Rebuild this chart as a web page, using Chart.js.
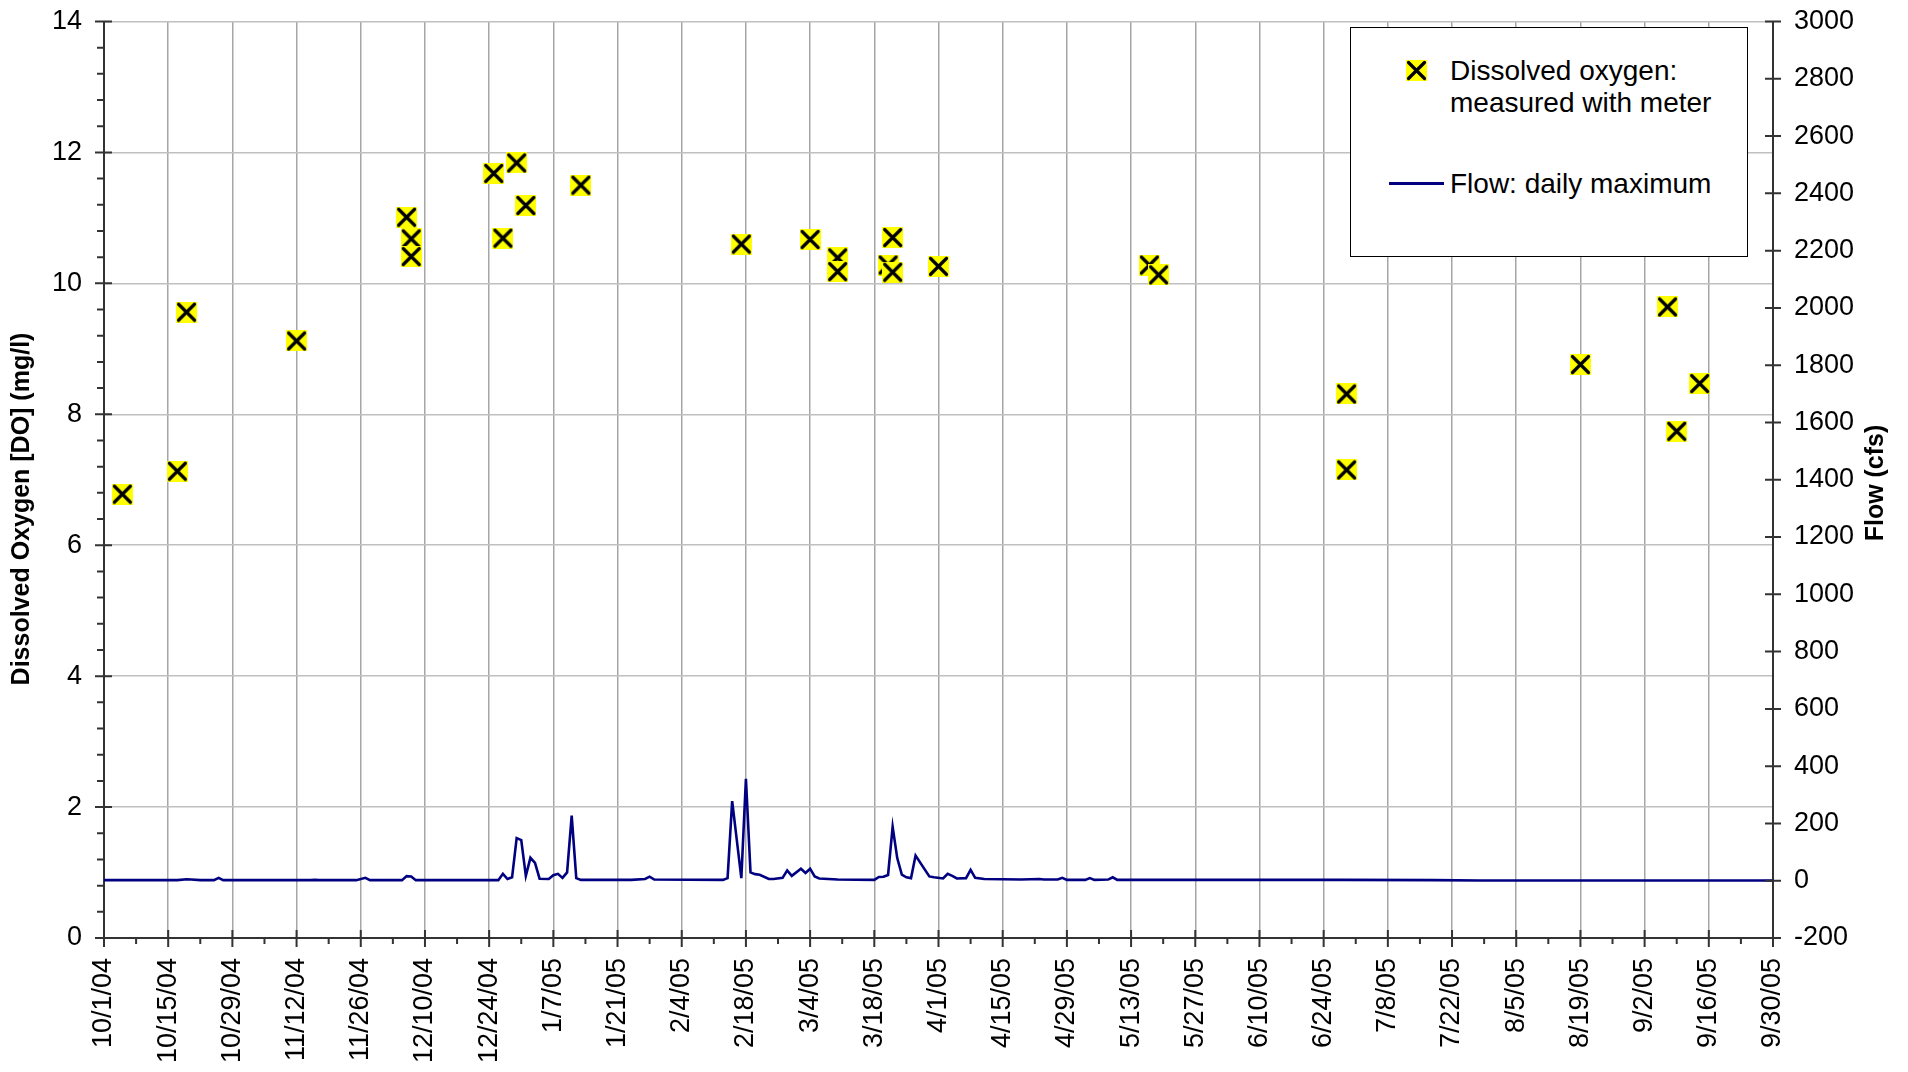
<!DOCTYPE html>
<html>
<head>
<meta charset="utf-8">
<script src="https://cdn.jsdelivr.net/npm/chart.js@4.4.1/dist/chart.umd.min.js"></script>
<style>
  html, body { margin: 0; padding: 0; background: #fff; overflow: hidden; }
  #wrap { position: relative; width: 1908px; height: 1072px; }
  #legenda {
    position: absolute; left: 1350px; top: 27px; width: 398px; height: 230px;
    border: 1.5px solid #000; background: #fff; box-sizing: border-box;
    font-family: Arial, "Liberation Sans", sans-serif; font-size: 28px; color: #000;
  }
  #legenda .txt { position: absolute; left: 99px; line-height: 31.7px; white-space: nowrap; }
  #legenda .marca { position: absolute; left: 55px; top: 32px; }
  #legenda .linha { position: absolute; left: 38px; top: 154px; width: 55px; height: 2.5px; background: #000080; }
</style>
</head>
<body>
<div id="wrap">
  <canvas id="grafico" width="1908" height="1072"></canvas>
  <div id="legenda">
    <canvas class="marca" id="marcaLegenda" width="21" height="21"></canvas>
    <div class="txt" style="top: 27px;">Dissolved oxygen:<br>measured with meter</div>
    <div class="linha"></div>
    <div class="txt" style="top: 140px;">Flow: daily maximum</div>
  </div>
</div>
<script>
// rótulos do eixo x (a cada 14 dias)
const rotulosDatas = ['10/1/04', '10/15/04', '10/29/04', '11/12/04', '11/26/04', '12/10/04', '12/24/04',
  '1/7/05', '1/21/05', '2/4/05', '2/18/05', '3/4/05', '3/18/05', '4/1/05', '4/15/05', '4/29/05',
  '5/13/05', '5/27/05', '6/10/05', '6/24/05', '7/8/05', '7/22/05', '8/5/05', '8/19/05', '9/2/05',
  '9/16/05', '9/30/05'];

// oxigênio dissolvido medido (mg/l)
const datasOD = ['10/5/04', '10/17/04', '10/19/04', '11/12/04', '12/6/04', '12/7/04', '12/7/04',
  '12/25/04', '12/27/04', '12/30/04', '1/1/05', '1/13/05', '2/17/05', '3/4/05', '3/10/05', '3/10/05',
  '3/21/05', '3/22/05', '3/22/05', '4/1/05', '5/17/05', '5/19/05', '6/29/05', '6/29/05', '8/19/05',
  '9/7/05', '9/9/05', '9/14/05'];
const valoresOD = [6.78, 7.13, 9.56, 9.12, 11.01, 10.68, 10.41,
  11.68, 10.69, 11.84, 11.19, 11.50, 10.60, 10.67, 10.39, 10.18,
  10.28, 10.17, 10.70, 10.26, 10.28, 10.13, 8.31, 7.15, 8.76,
  9.64, 7.74, 8.47];

// vazão máxima diária (cfs)
const datasVazao = ['10/1/04', '10/17/04', '10/19/04', '10/20/04', '10/22/04', '10/25/04', '10/26/04',
  '10/27/04', '11/15/04', '11/16/04', '11/17/04', '11/25/04', '11/27/04', '11/28/04', '12/5/04',
  '12/6/04', '12/7/04', '12/8/04', '12/26/04', '12/27/04', '12/28/04', '12/29/04', '12/30/04',
  '12/31/04', '1/1/05', '1/2/05', '1/3/05', '1/4/05', '1/6/05', '1/7/05', '1/8/05', '1/9/05',
  '1/10/05', '1/11/05', '1/12/05', '1/13/05', '1/24/05', '1/27/05', '1/28/05', '1/29/05',
  '2/13/05', '2/14/05', '2/15/05', '2/17/05', '2/18/05', '2/19/05', '2/20/05', '2/21/05',
  '2/23/05', '2/24/05', '2/26/05', '2/27/05', '2/28/05', '3/2/05', '3/3/05', '3/4/05', '3/5/05',
  '3/6/05', '3/10/05', '3/18/05', '3/19/05', '3/20/05', '3/21/05', '3/22/05', '3/23/05',
  '3/24/05', '3/25/05', '3/26/05', '3/27/05', '3/30/05', '3/31/05', '4/2/05', '4/3/05', '4/4/05',
  '4/5/05', '4/7/05', '4/8/05', '4/9/05', '4/11/05', '4/19/05', '4/23/05', '4/24/05', '4/27/05',
  '4/28/05', '4/29/05', '5/3/05', '5/4/05', '5/5/05', '5/8/05', '5/9/05', '5/10/05', '5/29/05',
  '6/28/05', '7/18/05', '7/28/05', '9/30/05'];
const valoresVazao = [2, 2, 5, 4, 2, 2, 10,
  2, 2, 3, 2, 2, 10, 2, 2,
  16, 15, 2, 2, 24, 6, 12, 149,
  142, 17, 80, 62, 7, 6, 19, 24, 10,
  29, 227, 9, 3, 3, 6, 14, 4,
  3, 9, 278, 9, 356, 29, 23, 21,
  6, 6, 10, 36, 17, 42, 27, 42, 15,
  8, 4, 3, 13, 14, 20, 188, 79,
  21, 12, 9, 88, 15, 12, 8, 24, 17,
  8, 9, 38, 10, 6, 4, 6, 4, 4,
  10, 3, 3, 9, 3, 4, 12, 3, 3,
  3, 2, 1, 1];

const tituloEsquerdo = 'Dissolved Oxygen [DO] (mg/l)';
const tituloDireito = 'Flow (cfs)';

function diaDoPeriodo(texto) {
  const [m, d, a] = texto.split('/').map(Number);
  return Math.round((Date.UTC(2000 + a, m - 1, d) - Date.UTC(2004, 9, 1)) / 86400000);
}

// marcador: quadrado amarelo com X preto
function criarMarcador(canvas) {
  const c = canvas.getContext('2d');
  const t = canvas.width;
  c.fillStyle = '#ffff00';
  c.fillRect(0, 0, t, t);
  c.strokeStyle = '#000';
  c.lineWidth = 3.2;
  c.lineCap = 'round';
  c.beginPath();
  c.moveTo(2.5, 2.5); c.lineTo(t - 2.5, t - 2.5);
  c.moveTo(t - 2.5, 2.5); c.lineTo(2.5, t - 2.5);
  c.stroke();
  return canvas;
}
const marcador = document.createElement('canvas');
marcador.width = 21; marcador.height = 21;
criarMarcador(marcador);
criarMarcador(document.getElementById('marcaLegenda'));

const fonte = 'Arial, "Liberation Sans", sans-serif';
Chart.defaults.font.family = fonte;
Chart.defaults.color = '#000';

const pontosOD = datasOD.map((d, i) => ({ x: diaDoPeriodo(d), y: valoresOD[i] }));
const pontosVazao = datasVazao.map((d, i) => ({ x: diaDoPeriodo(d), y: valoresVazao[i] }));
const diasRotulos = rotulosDatas.map(diaDoPeriodo);

// eixos verticais sem folga extra acima/abaixo
function larguraFixa(largura) {
  return (escala) => {
    escala.width = largura;
    escala.paddingTop = 0;
    escala.paddingBottom = 0;
  };
}

// marcas de escala (maiores e menores) e títulos dos eixos
const marcasEixos = {
  id: 'marcasEixos',
  afterDraw(chart) {
    const ctx = chart.ctx;
    const sx = chart.scales.x, sy = chart.scales.y, sy2 = chart.scales.y2;
    const area = chart.chartArea;
    ctx.save();
    ctx.strokeStyle = '#333';
    ctx.lineWidth = 2;
    ctx.beginPath();
    sy.ticks.forEach((t, i) => {
      const py = sy.getPixelForValue(t.value);
      ctx.moveTo(area.left - 9, py); ctx.lineTo(area.left + 8, py);
      if (i < sy.ticks.length - 1) {
        const passo = (sy.ticks[i + 1].value - t.value) / 5;
        for (let k = 1; k < 5; k++) {
          const pm = sy.getPixelForValue(t.value + passo * k);
          ctx.moveTo(area.left - 7, pm); ctx.lineTo(area.left, pm);
        }
      }
    });
    sy2.ticks.forEach(t => {
      const py = sy2.getPixelForValue(t.value);
      ctx.moveTo(area.right - 8, py); ctx.lineTo(area.right + 8, py);
    });
    sx.ticks.forEach((t, i) => {
      const px = sx.getPixelForValue(t.value);
      ctx.moveTo(px, area.bottom - 8); ctx.lineTo(px, area.bottom + 9);
      if (i < sx.ticks.length - 1) {
        const pm = sx.getPixelForValue((t.value + sx.ticks[i + 1].value) / 2);
        ctx.moveTo(pm, area.bottom); ctx.lineTo(pm, area.bottom + 6);
      }
    });
    ctx.stroke();

    ctx.font = 'bold 25px ' + fonte;
    ctx.fillStyle = '#000';
    ctx.textAlign = 'center';
    ctx.textBaseline = 'middle';
    ctx.save();
    ctx.translate(22, 509);
    ctx.rotate(-Math.PI / 2);
    ctx.fillText(tituloEsquerdo, 0, 0);
    ctx.restore();
    ctx.translate(1876, 483);
    ctx.rotate(-Math.PI / 2);
    ctx.fillText(tituloDireito, 0, 0);
    ctx.restore();
  }
};

const ctx = document.getElementById('grafico').getContext('2d');
new Chart(ctx, {
  data: {
    datasets: [{
      type: 'scatter',
      label: 'Dissolved oxygen: measured with meter',
      data: pontosOD,
      yAxisID: 'y',
      pointStyle: marcador,
      pointRadius: 10,
      order: 0
    }, {
      type: 'line',
      label: 'Flow: daily maximum',
      data: pontosVazao,
      yAxisID: 'y2',
      borderColor: '#000080',
      borderWidth: 2.6,
      pointRadius: 0,
      tension: 0,
      fill: false,
      order: 1
    }]
  },
  options: {
    responsive: false,
    animation: false,
    devicePixelRatio: 1,
    layout: { padding: { top: 21.5, left: 0, right: 0, bottom: 0 } },
    plugins: {
      legend: { display: false },
      tooltip: { enabled: false }
    },
    scales: {
      x: {
        type: 'linear',
        min: 0,
        max: 364,
        afterBuildTicks: (escala) => {
          escala.ticks = diasRotulos.map(v => ({ value: v }));
        },
        afterFit: (escala) => { escala.height = 134; },
        ticks: {
          autoSkip: false,
          maxRotation: 90,
          minRotation: 90,
          padding: 20,
          font: { size: 27 },
          callback: (valor) => rotulosDatas[diasRotulos.indexOf(valor)]
        },
        grid: { color: '#a6a6a6', lineWidth: 1.5, drawTicks: false },
        border: { color: '#333', width: 2 }
      },
      y: {
        position: 'left',
        min: 0,
        max: 14,
        afterFit: larguraFixa(104),
        ticks: { stepSize: 2, padding: 22, font: { size: 27 }, callback: (v) => String(v) },
        grid: { color: '#c0c0c0', lineWidth: 1.5, drawTicks: false },
        border: { color: '#333', width: 2 }
      },
      y2: {
        position: 'right',
        min: -200,
        max: 3000,
        afterFit: larguraFixa(135),
        ticks: { stepSize: 200, padding: 21, font: { size: 27 }, callback: (v) => String(v) },
        grid: { drawOnChartArea: false, drawTicks: false },
        border: { color: '#333', width: 2 }
      }
    }
  },
  plugins: [marcasEixos]
});
</script>
</body>
</html>
